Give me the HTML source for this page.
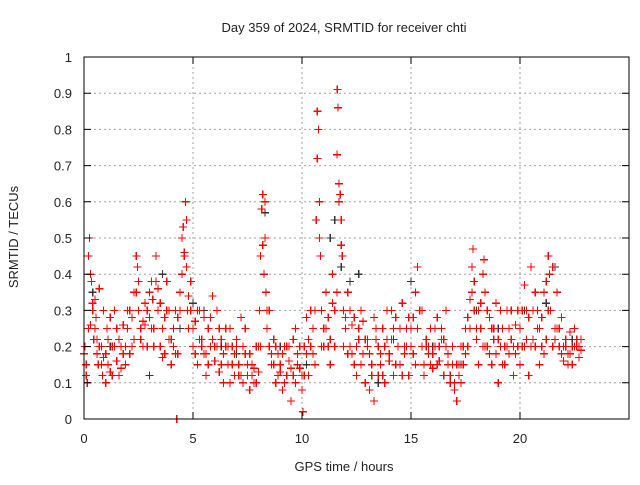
<!DOCTYPE html>
<html><head><meta charset="utf-8"><style>
body{margin:0;background:#fff;}
svg text{font-family:"Liberation Sans",sans-serif;font-size:13px;fill:#222;}
</style></head><body>
<svg id="chart" width="640" height="480" xmlns="http://www.w3.org/2000/svg">
<text x="344" y="32" text-anchor="middle">Day 359 of 2024, SRMTID for receiver chti</text>
<text transform="translate(18,237) rotate(-90)" text-anchor="middle">SRMTID / TECUs</text>
<text x="344" y="471" text-anchor="middle">GPS time / hours</text>
<g id="grid"></g><g id="marks"></g><g id="axes"></g>
</svg>
<script>
const xTicks=[0,5,10,15,20];
const yTicks=[0,0.1,0.2,0.3,0.4,0.5,0.6,0.7,0.8,0.9,1];
const yTickLabels=["0","0.1","0.2","0.3","0.4","0.5","0.6","0.7","0.8","0.9","1"];
const redTimes=[0.05,0.1,0.15,0.2,0.25,0.3,0.35,0.4,0.45,0.5,0.55,0.6,0.65,0.7,0.8,0.85,0.9,1.0,1.05,1.1,1.2,1.3,1.4,1.5,1.6,1.7,1.8,1.9,2.0,2.1,2.2,2.3,2.4,2.45,2.5,2.6,2.7,2.8,2.9,3.0,3.1,3.15,3.2,3.3,3.4,3.5,3.6,3.7,3.8,3.9,4.0,4.1,4.2,4.25,4.3,4.4,4.5,4.55,4.6,4.65,4.7,4.75,4.8,4.9,5.0,5.1,5.2,5.3,5.4,5.5,5.6,5.7,5.8,5.9,6.0,6.1,6.2,6.3,6.4,6.5,6.6,6.7,6.8,6.9,7.0,7.1,7.2,7.3,7.4,7.5,7.6,7.7,7.8,7.9,8.0,8.05,8.1,8.15,8.2,8.25,8.3,8.35,8.4,8.5,8.6,8.7,8.8,8.9,9.0,9.1,9.2,9.3,9.4,9.5,9.6,9.7,9.8,9.9,10.0,10.05,10.1,10.2,10.3,10.4,10.5,10.6,10.65,10.7,10.75,10.8,10.85,10.9,11.0,11.1,11.2,11.3,11.4,11.5,11.6,11.62,11.65,11.7,11.75,11.8,11.85,11.9,12.0,12.1,12.2,12.3,12.4,12.5,12.6,12.7,12.8,12.9,13.0,13.1,13.2,13.3,13.4,13.5,13.6,13.7,13.8,13.9,14.0,14.1,14.2,14.3,14.4,14.5,14.6,14.7,14.8,14.9,15.0,15.1,15.2,15.3,15.4,15.5,15.6,15.7,15.8,15.9,16.0,16.1,16.2,16.3,16.4,16.5,16.6,16.7,16.8,16.9,17.0,17.1,17.2,17.3,17.4,17.5,17.6,17.7,17.8,17.85,17.9,18.0,18.1,18.2,18.3,18.35,18.4,18.5,18.6,18.7,18.8,18.9,19.0,19.1,19.2,19.3,19.4,19.5,19.6,19.7,19.8,19.9,20.0,20.1,20.2,20.3,20.4,20.5,20.6,20.7,20.8,20.9,21.0,21.1,21.2,21.3,21.35,21.4,21.5,21.6,21.7,21.8,21.9,22.0,22.1,22.2,22.3,22.4,22.5,22.6,22.7,22.8];
const redValues=[.2,.12,.1,.45,.5,.26,.38,.3,.22,.33,.28,.18,.15,.36,.2,.12,.17,.1,.25,.15,.13,.2,.3,.16,.22,.14,.26,.2,.25,.18,.28,.35,.45,.42,.3,.22,.27,.26,.2,.35,.38,.33,.25,.45,.3,.2,.17,.28,.38,.22,.15,.25,.3,0,.18,.35,.5,.53,.45,.6,.55,.3,.25,.38,.2,.27,.15,.3,.22,.18,.12,.25,.2,.34,.16,.2,.13,.22,.18,.25,.15,.1,.2,.12,.22,.15,.28,.1,.18,.12,.08,.15,.1,.2,.13,.3,.45,.58,.62,.4,.6,.35,.25,.2,.15,.22,.1,.18,.13,.08,.2,.12,.16,.05,.22,.1,.18,.14,.08,.02,.2,.28,.12,.3,.18,.15,.55,.85,.8,.6,.45,.3,.2,.35,.28,.15,.4,.2,.73,.91,.86,.65,.62,.55,.45,.3,.25,.35,.3,.18,.28,.12,.22,.15,.27,.1,.2,.08,.15,.05,.22,.12,.18,.25,.1,.3,.16,.22,.12,.28,.2,.15,.32,.18,.25,.12,.2,.28,.35,.42,.3,.2,.15,.22,.18,.25,.14,.2,.28,.16,.22,.12,.3,.18,.1,.15,.08,.05,.12,.2,.15,.25,.2,.33,.42,.47,.3,.22,.15,.25,.4,.44,.35,.2,.28,.15,.22,.32,.1,.2,.25,.15,.3,.18,.22,.12,.26,.2,.15,.3,.37,.22,.12,.42,.3,.2,.25,.15,.28,.35,.22,.45,.4,.3,.42,.25,.35,.2,.28,.16,.22,.18,.24,.15,.2,.22,.17,.19];
const red2Times=[0.1,0.3,0.5,0.7,0.9,1.1,1.3,1.5,1.7,1.9,2.1,2.3,2.5,2.7,2.9,3.1,3.3,3.5,3.7,3.9,4.1,4.3,4.5,4.7,4.9,5.1,5.3,5.5,5.7,5.9,6.1,6.3,6.5,6.7,6.9,7.1,7.3,7.5,7.7,7.9,8.1,8.3,8.5,8.7,8.9,9.1,9.3,9.5,9.7,9.9,10.1,10.3,10.5,10.7,10.9,11.1,11.3,11.5,11.7,11.9,12.1,12.3,12.5,12.7,12.9,13.1,13.3,13.5,13.7,13.9,14.1,14.3,14.5,14.7,14.9,15.1,15.3,15.5,15.7,15.9,16.1,16.3,16.5,16.7,16.9,17.1,17.3,17.5,17.7,17.9,18.1,18.3,18.5,18.7,18.9,19.1,19.3,19.5,19.7,19.9,20.1,20.3,20.5,20.7,20.9,21.1,21.3,21.5,21.7,21.9,22.1,22.3,22.5,22.7];
const red2Values=[.15,.4,.25,.2,.3,.22,.12,.25,.2,.15,.3,.22,.38,.2,.3,.25,.38,.32,.18,.3,.2,.28,.4,.42,.3,.18,.22,.28,.15,.22,.3,.15,.2,.25,.18,.12,.2,.15,.12,.1,.2,.5,.3,.15,.12,.18,.2,.14,.25,.2,.12,.22,.25,.72,.2,.25,.22,.3,.6,.2,.18,.26,.2,.3,.22,.18,.28,.2,.12,.22,.3,.15,.25,.2,.28,.18,.25,.3,.2,.15,.25,.2,.22,.15,.2,.15,.1,.18,.25,.38,.3,.2,.3,.25,.18,.3,.2,.25,.2,.3,.2,.3,.2,.35,.25,.18,.3,.2,.25,.18,.2,.18,.25,.2];
const red3Times=[0.0,0.2,0.4,0.6,0.8,1.0,1.2,1.4,1.6,1.8,2.0,2.2,2.4,2.6,2.8,3.0,3.2,3.4,3.6,3.8,4.0,4.2,4.4,4.6,4.8,5.0,5.2,5.4,5.6,5.8,6.0,6.2,6.4,6.6,6.8,7.0,7.2,7.4,7.6,7.8,8.0,8.2,8.4,8.6,8.8,9.0,9.2,9.4,9.6,9.8,10.0,10.2,10.4,10.6,10.8,11.0,11.2,11.4,11.6,11.8,12.0,12.2,12.4,12.6,12.8,13.0,13.2,13.4,13.6,13.8,14.0,14.2,14.4,14.6,14.8,15.0,15.2,15.4,15.6,15.8,16.0,16.2,16.4,16.6,16.8,17.0,17.2,17.4,17.6,17.8,18.0,18.2,18.4,18.6,18.8,19.0,19.2,19.4,19.6,19.8,20.0,20.2,20.4,20.6,20.8,21.0,21.2,21.4,21.6,21.8,22.0,22.2,22.4,22.6,22.8];
const red3Values=[.18,.25,.32,.22,.15,.18,.28,.2,.12,.18,.3,.2,.35,.25,.32,.28,.2,.36,.25,.3,.22,.18,.3,.46,.34,.25,.3,.2,.18,.28,.2,.25,.1,.2,.15,.2,.12,.25,.18,.14,.2,.48,.3,.18,.2,.15,.1,.2,.12,.15,.12,.18,.2,.3,.5,.25,.2,.32,.35,.48,.28,.2,.15,.25,.18,.22,.12,.25,.15,.2,.18,.25,.2,.12,.2,.25,.15,.3,.12,.2,.18,.15,.25,.2,.12,.1,.15,.2,.28,.35,.25,.32,.2,.18,.25,.22,.15,.2,.3,.18,.25,.2,.28,.22,.3,.2,.38,.3,.22,.25,.2,.15,.2,.2,.22];
const grayTimes=[0.2,0.4,1.2,2.3,3.0,3.6,4.4,5.0,5.5,6.3,7.0,8.3,9.0,10.2,11.3,11.5,11.8,12.2,12.6,13.5,14.2,15.0,16.0,17.3,18.0,19.0,20.2,21.2,21.6,22.4];
const grayValues=[.45,.35,.2,.35,.12,.4,.25,.32,.3,.2,.18,.57,.2,.15,.5,.55,.42,.38,.4,.1,.22,.38,.2,.15,.3,.25,.3,.32,.42,.22];

const X0=84,X1=629,Y0=419,Y1=57,XMAX=25,YMAX=1;
const xs=v=>X0+(X1-X0)*v/XMAX;
const ys=v=>Y0-(Y0-Y1)*v/YMAX;
const NS="http://www.w3.org/2000/svg";
function mk(tag,attrs,parent){const e=document.createElementNS(NS,tag);for(const k in attrs)e.setAttribute(k,attrs[k]);parent.appendChild(e);return e;}
const grid=document.getElementById('grid'),marks=document.getElementById('marks'),axes=document.getElementById('axes');
yTicks.forEach((t,i)=>{
  const y=ys(t);
  if(i>0&&i<yTicks.length-1){const g=mk('line',{x1:X0,x2:X1,y1:y,y2:y,stroke:'#a0a0a0','stroke-dasharray':'2,3'},grid);
  
  }
  const tk=mk('path',{d:`M${X0} ${y}h7M${X1} ${y}h-7`,stroke:'#000'},axes);
  
  
  const lb=mk('text',{x:X0-12,y:y+5,'text-anchor':'end'},axes);lb.textContent=yTickLabels[i];
  
  
});
xTicks.forEach(t=>{
  const x=xs(t);
  if(t>0){const g=mk('line',{x1:x,x2:x,y1:Y0,y2:Y1,stroke:'#a0a0a0','stroke-dasharray':'2,3'},grid);
  
  }
  const tk=mk('path',{d:`M${x} ${Y0}v-7M${x} ${Y1}v7`,stroke:'#000'},axes);
  
  
  const lb=mk('text',{x:x,y:Y0+24,'text-anchor':'middle'},axes);lb.textContent=String(t);
  
  
});
const fr=mk('rect',{x:X0,y:Y1,width:X1-X0,height:Y0-Y1,fill:'none',stroke:'#000'},axes);


function plus(t,v,col,name){
  const x=xs(t),y=ys(v);
  const p=mk('path',{d:`M${x-4} ${y}h8M${x} ${y-4}v8`,stroke:col,'stroke-width':1.2,'shape-rendering':'crispEdges'},marks);
  
  
}
grayTimes.forEach((t,i)=>plus(t,grayValues[i],'#333','gray-point'));
redTimes.forEach((t,i)=>plus(t,redValues[i],'#ff0000','red-point'));
red2Times.forEach((t,i)=>plus(t,red2Values[i],'#ff0000','red-point'));
red3Times.forEach((t,i)=>plus(t,red3Values[i],'#ff0000','red-point'));
</script>
</body></html>
